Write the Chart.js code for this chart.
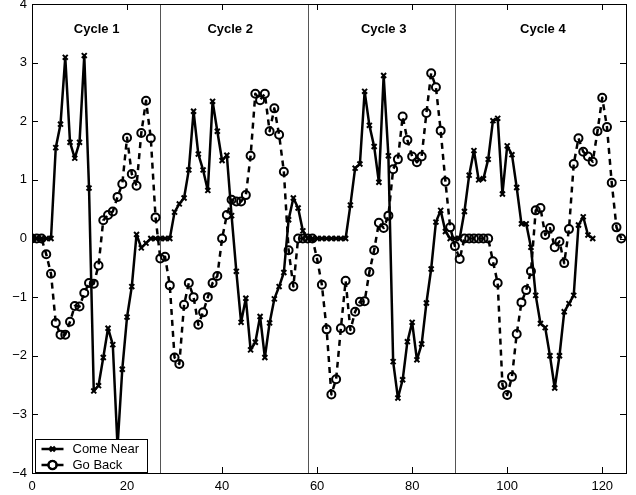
<!DOCTYPE html>
<html>
<head>
<meta charset="utf-8">
<script src="https://cdn.jsdelivr.net/npm/chart.js@4.4.1/dist/chart.umd.min.js"></script>
<style>
  html, body { margin: 0; padding: 0; background: #fff; }
  #wrap { width: 636px; height: 495px; }
</style>
</head>
<body>
<div id="wrap"><canvas id="plot" width="636" height="495"></canvas></div>
<script>
// Data, one value per sample index starting at 0
var comeNear = [
    0, 0, 0, 0, 0, 1.55, 1.95, 3.09, 1.64, 1.37,
    1.64, 3.12, 0.86, -2.6, -2.51, -2.03, -1.53, -1.81, -3.55, -2.23,
    -1.34, -0.82, 0.07, -0.16, -0.08, 0, 0, 0, 0, 0,
    0.45, 0.59, 0.69, 1.17, 2.17, 1.44, 1.17, 0.82, 2.34, 1.83,
    1.33, 1.42, 0.39, -0.56, -1.43, -1.02, -1.9, -1.77, -1.33, -2.03,
    -1.44, -1.03, -0.82, -0.58, 0.32, 0.69, 0.52, 0.13, 0, 0,
    0, 0, 0, 0, 0, 0, 0, 0.57, 1.2, 1.27,
    2.51, 1.93, 1.57, 0.96, 2.78, 1.41, -2.1, -2.72, -2.41, -1.76,
    -1.43, -2.07, -1.8, -1.1, -0.52, 0.28, 0.48, 0.12, 0, 0,
    0, 0.46, 1.08, 1.5, 1.0, 1.02, 1.35, 2.01, 2.05, 0.76,
    1.58, 1.43, 0.87, 0.25, 0.25, -0.15, -0.97, -1.45, -1.52, -2.0,
    -2.55, -2.0, -1.25, -1.11, -0.97, 0.23, 0.37, 0.06, 0
];
var goBack = [
    0, 0, 0, -0.27, -0.6, -1.44, -1.64, -1.64, -1.42, -1.15,
    -1.16, -0.93, -0.76, -0.77, -0.46, 0.31, 0.4, 0.46, 0.71, 0.93,
    1.72, 1.1, 0.9, 1.8, 2.35, 1.71, 0.36, -0.34, -0.31, -0.8,
    -2.03, -2.14, -1.13, -0.76, -1.0, -1.47, -1.26, -1.0, -0.76, -0.64,
    0, 0.4, 0.66, 0.63, 0.63, 0.74, 1.41, 2.47, 2.36, 2.47,
    1.83, 2.22, 1.77, 1.14, -0.2, -0.82, 0, 0, 0, 0,
    -0.35, -0.79, -1.55, -2.66, -2.4, -1.53, -0.72, -1.56, -1.25, -1.08,
    -1.07, -0.57, -0.2, 0.27, 0.18, 0.39, 1.18, 1.35, 2.08, 1.68,
    1.4, 1.3, 1.4, 2.14, 2.82, 2.58, 1.84, 0.97, 0.19, -0.13,
    -0.35, 0, 0, 0, 0, 0, 0, -0.39, -0.76, -2.5,
    -2.67, -2.36, -1.63, -1.09, -0.88, -0.56, 0.48, 0.52, 0.06, 0.18,
    -0.15, -0.05, -0.42, 0.16, 1.27, 1.71, 1.48, 1.4, 1.31, 1.83,
    2.4, 1.9, 0.95, 0.19, 0
];
var seriesNames  = ['Come Near', 'Go Back'];
var cycleBounds  = [27, 58, 89];
var cycleNames   = ['Cycle 1', 'Cycle 2', 'Cycle 3', 'Cycle 4'];
var cycleLabelX  = [13.6, 41.7, 74, 107.5];
var cycleLabelY  = 3.57;
var xTicks       = [0, 20, 40, 60, 80, 100, 120];
var yTicks       = [-4, -3, -2, -1, 0, 1, 2, 3, 4];
var xRange       = [0, 125];
var yRange       = [-4, 4];

var FONT = 'Liberation Sans, Arial, Helvetica, sans-serif';

function toPoints(values) {
    return values.map(function(v, i) { return {x: i, y: v}; });
}

// box, inward ticks, cycle separators and labels
var framePlugin = {
    id: 'frame',
    beforeDatasetsDraw: function(chart) {
        var ctx = chart.ctx, a = chart.chartArea;
        var xs = chart.scales.x, ys = chart.scales.y;
        ctx.save();
        ctx.strokeStyle = '#555';
        ctx.lineWidth = 1;
        cycleBounds.forEach(function(b) {
            var px = Math.round(xs.getPixelForValue(b)) + 0.5;
            ctx.beginPath();
            ctx.moveTo(px, a.top);
            ctx.lineTo(px, a.bottom);
            ctx.stroke();
        });
        ctx.fillStyle = '#000';
        ctx.font = 'bold 13px ' + FONT;
        ctx.textAlign = 'center';
        ctx.textBaseline = 'middle';
        cycleNames.forEach(function(name, i) {
            ctx.fillText(name, xs.getPixelForValue(cycleLabelX[i]), ys.getPixelForValue(cycleLabelY));
        });
        ctx.restore();
    },
    afterDatasetsDraw: function(chart) {
        var ctx = chart.ctx, a = chart.chartArea;
        var xs = chart.scales.x, ys = chart.scales.y;
        var tl = 6;
        ctx.save();
        ctx.strokeStyle = '#000';
        ctx.lineWidth = 1;
        ctx.beginPath();
        xTicks.forEach(function(t) {
            var px = Math.round(xs.getPixelForValue(t)) + 0.5;
            ctx.moveTo(px, a.bottom); ctx.lineTo(px, a.bottom - tl);
            ctx.moveTo(px, a.top);    ctx.lineTo(px, a.top + tl);
        });
        yTicks.forEach(function(t) {
            var py = Math.round(ys.getPixelForValue(t)) + 0.5;
            ctx.moveTo(a.left, py);  ctx.lineTo(a.left + tl, py);
            ctx.moveTo(a.right, py); ctx.lineTo(a.right - tl, py);
        });
        ctx.stroke();
        ctx.strokeRect(Math.round(a.left) + 0.5, Math.round(a.top) + 0.5,
                       Math.round(a.right - a.left), Math.round(a.bottom - a.top));

        // legend box, bottom-left inside the axes
        var bx = Math.round(a.left) + 3.5, by = Math.round(a.bottom) - 33.5;
        var bw = 112, bh = 33;
        ctx.fillStyle = '#fff';
        ctx.fillRect(bx, by, bw, bh);
        ctx.strokeRect(bx, by, bw, bh);
        ctx.font = '13px ' + FONT;
        ctx.textAlign = 'left';
        ctx.textBaseline = 'middle';
        chart.data.datasets.forEach(function(ds, i) {
            var y = by + 9.5 + i * 16;
            var x0 = bx + 6, x1 = bx + 28, xm = (x0 + x1) / 2;
            ctx.strokeStyle = '#000';
            ctx.lineWidth = 2.5;
            ctx.setLineDash([]);
            ctx.beginPath();
            ctx.moveTo(x0, y); ctx.lineTo(x1, y);
            ctx.stroke();
            Chart.helpers.drawPoint(ctx, {
                pointStyle: ds.pointStyle,
                radius: ds.pointStyle === 'circle' ? 4 : 3.5,
                borderWidth: 2
            }, xm, y);
            if (ds.pointStyle === 'circle') {
                ctx.fillStyle = '#fff';
                ctx.beginPath(); ctx.arc(xm, y, 3, 0, Math.PI * 2); ctx.fill();
                ctx.lineWidth = 2;
                ctx.beginPath(); ctx.arc(xm, y, 4, 0, Math.PI * 2); ctx.stroke();
            }
            ctx.fillStyle = '#000';
            ctx.fillText(ds.label, bx + 37, y);
        });
        ctx.restore();
    }
};

var chart = new Chart(document.getElementById('plot'), {
    type: 'line',
    data: {
        datasets: [{
            label: seriesNames[0],
            data: toPoints(comeNear),
            borderColor: '#000',
            borderWidth: 2.5,
            borderJoinStyle: 'round',
            pointStyle: 'crossRot',
            pointRadius: 3.5,
            pointBorderWidth: 2,
            pointBorderColor: '#000',
            tension: 0,
            order: 2
        }, {
            label: seriesNames[1],
            data: toPoints(goBack),
            borderColor: '#000',
            borderWidth: 2.5,
            borderJoinStyle: 'round',
            borderDash: [6, 5],
            pointStyle: 'circle',
            pointRadius: 4,
            pointBorderWidth: 2,
            pointBorderColor: '#000',
            pointBackgroundColor: 'rgba(0,0,0,0)',
            tension: 0,
            order: 1
        }]
    },
    options: {
        responsive: false,
        animation: false,
        devicePixelRatio: 1,
        layout: { autoPadding: false, padding: { top: 4, right: 10, left: 0, bottom: 0 } },
        plugins: {
            legend: { display: false },
            tooltip: { enabled: false }
        },
        scales: {
            x: {
                type: 'linear',
                min: xRange[0],
                max: xRange[1],
                grid: { display: false, drawTicks: false },
                border: { display: false },
                afterBuildTicks: function(s) {
                    s.ticks = xTicks.map(function(v) { return {value: v}; });
                },
                afterFit: function(s) {
                    s.height = 22;
                    s.paddingLeft = 0; s.paddingRight = 0;
                },
                ticks: {
                    color: '#000',
                    padding: 6,
                    maxRotation: 0,
                    font: { family: FONT, size: 13 }
                }
            },
            y: {
                type: 'linear',
                min: yRange[0],
                max: yRange[1],
                grid: { display: false, drawTicks: false },
                border: { display: false },
                afterBuildTicks: function(s) {
                    s.ticks = yTicks.map(function(v) { return {value: v}; });
                },
                afterFit: function(s) {
                    s.width = 32;
                    s.paddingTop = 0; s.paddingBottom = 0;
                },
                ticks: {
                    color: '#000',
                    padding: 5,
                    font: { family: FONT, size: 13 },
                    callback: function(v) { return String(v).replace('-', '\u2212'); }
                }
            }
        }
    },
    plugins: [framePlugin]
});
</script>
</body>
</html>
